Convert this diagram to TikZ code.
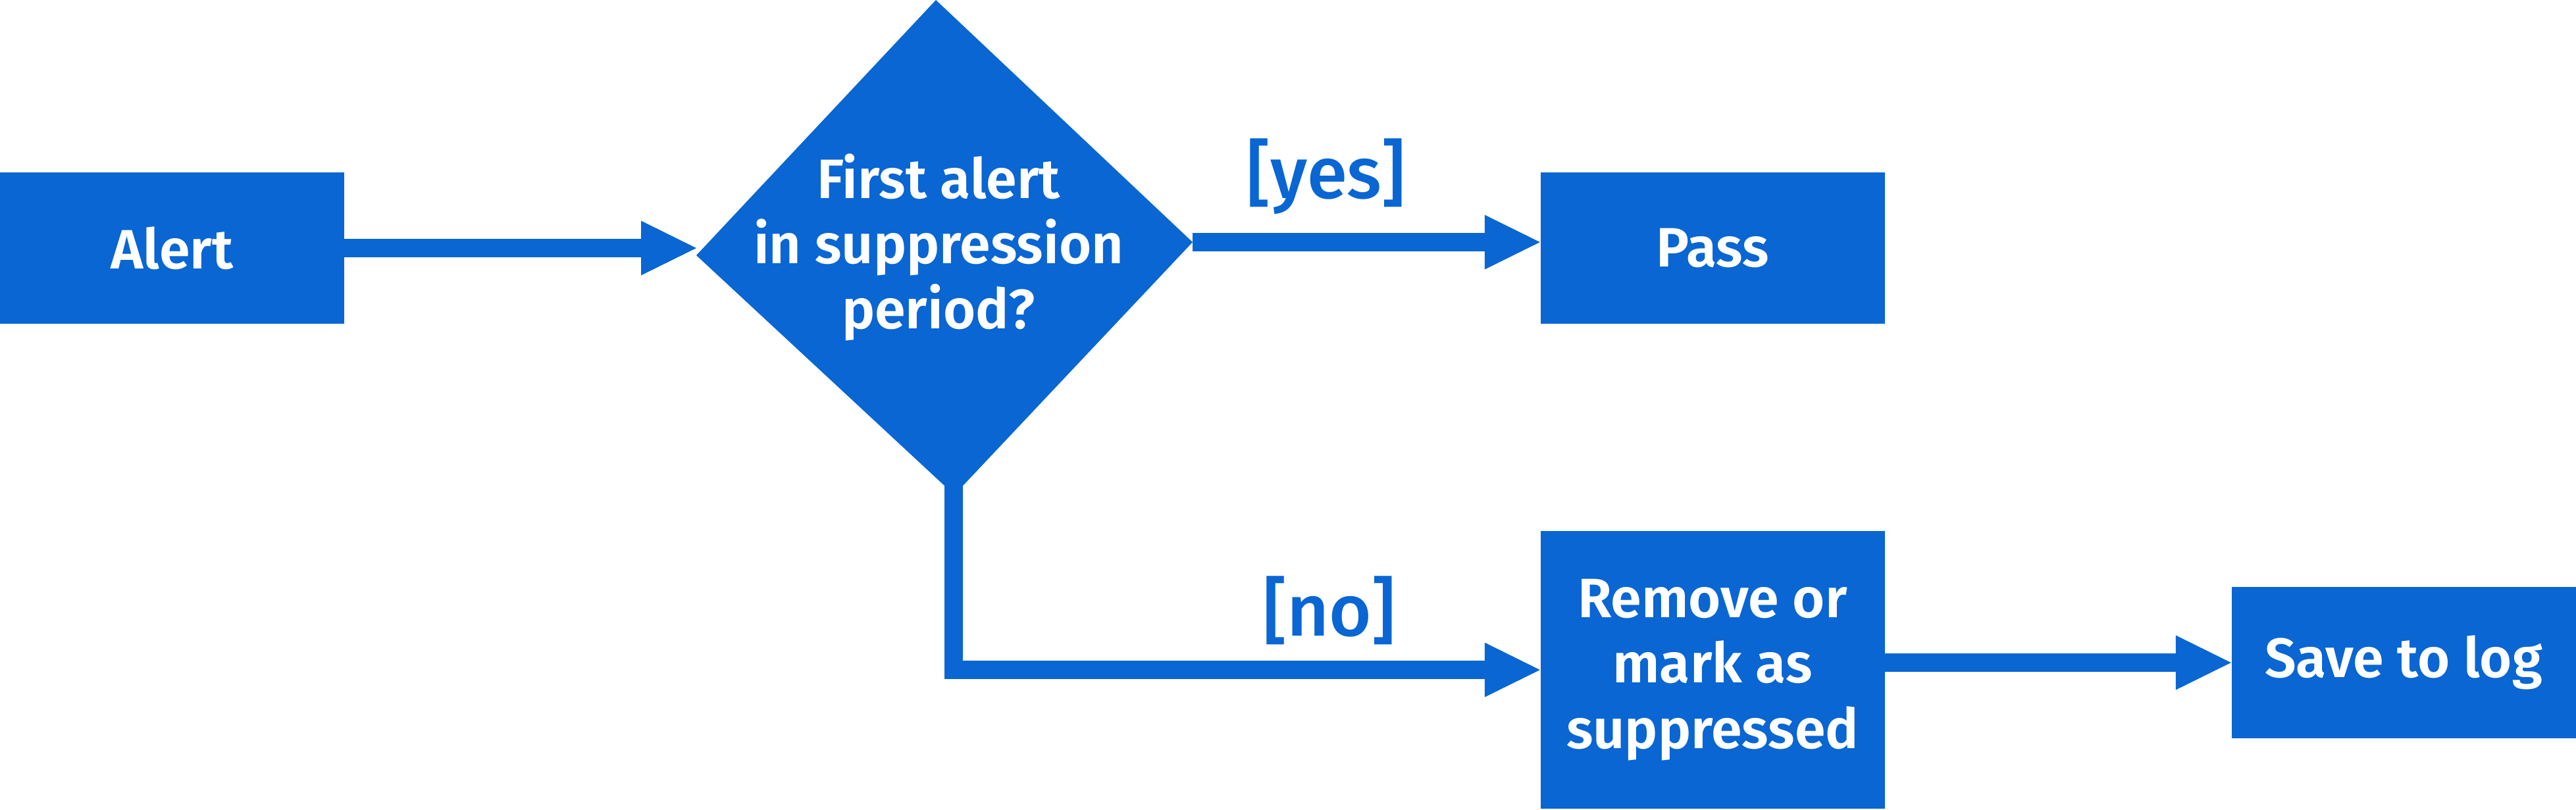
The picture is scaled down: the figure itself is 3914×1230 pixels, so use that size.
\documentclass[tikz,border=0pt]{standalone}
\usepackage{fontspec}
\setmainfont{Fira Sans}[BoldFont={Fira Sans SemiBold}]
\newfontfamily\lblfont{Fira Sans Medium}
\usetikzlibrary{arrows.meta}
\definecolor{flowblue}{RGB}{9,102,211}

\begin{document}
\begin{tikzpicture}[x=0.1mm, y=-0.1mm,
  >={Triangle[length=8.4mm, width=8.3mm, line width=0pt]},
  font=\fontsize{24}{28.2}\selectfont\bfseries,
  box/.style={fill=flowblue, text=white, minimum width=52.3mm, minimum height=23mm, inner sep=0pt, align=center},
  lbl/.style={text=flowblue, font=\lblfont\fontsize{31.5}{36}\selectfont},
  flow/.style={->, draw=flowblue, line width=2.8mm}]
  \useasboundingbox (0,0) rectangle (3914,1230);
  \node[box] (alert) at (261,377) {Alert};
  \node[box] (pass) at (2602,377) {Pass};
  \node[box, minimum height=42.2mm] (remove) at (2602,1018) {Remove or\\mark as\\suppressed};
  \node[box] (save) at (3652,1007) {Save to log};
  % decision diamond
  \coordinate (dT) at (1422,0);
  \coordinate (dR) at (1812,368);
  \coordinate (dB) at (1450,752);
  \coordinate (dL) at (1058,388);
  \fill[flowblue] (dT) -- (dR) -- (dB) -- (dL) -- cycle;
  \node[text=white, align=center] (q) at (1426,376) {First alert\\in suppression\\period?};
  \node[lbl] (yes) at (2015,268) {[yes]};
  \node[lbl] (no) at (2020,928) {[no]};
  \draw[flow] (alert.east) -- (alert.east -| dL);
  \draw[flow] (dR) -- (dR -| pass.west);
  \draw[flow] ([xshift=-0.1mm, yshift=1.6mm]dB) |- (remove.west);
  \draw[flow] (remove.east |- save.west) -- (save.west);
\end{tikzpicture}
\end{document}
